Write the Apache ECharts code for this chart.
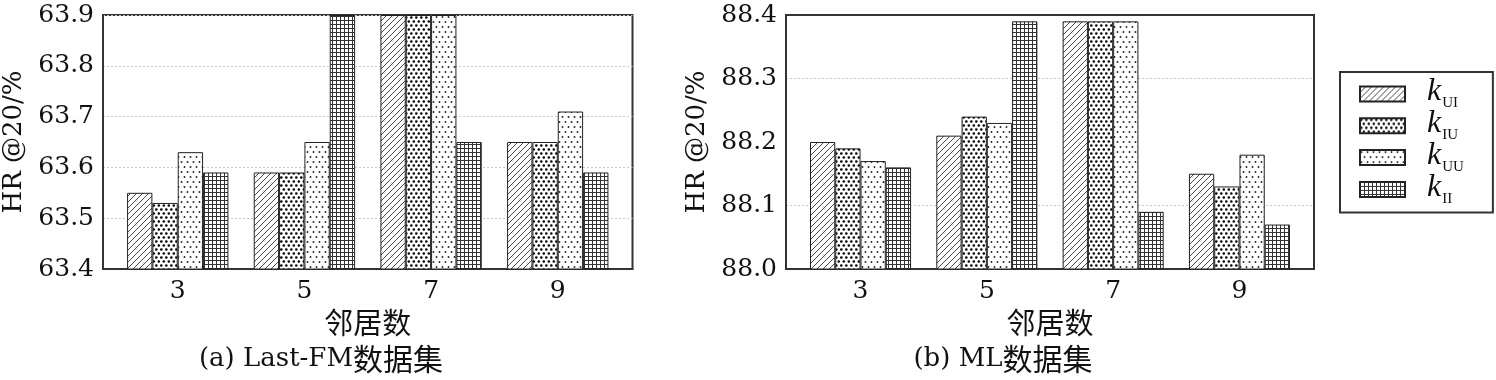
<!DOCTYPE html>
<html><head><meta charset="utf-8">
<script src="https://cdn.jsdelivr.net/npm/echarts@6/dist/echarts.min.js"></script>
<style>html,body{margin:0;padding:0;background:#fff}#c{width:1496px;height:380px}</style>
</head><body><div id="c"></div>
<script>
// ---- data ----
const neighbors = [3, 5, 7, 9];
const seriesNames = ['kUI', 'kIU', 'kUU', 'kII'];
const lastfmTicks = [63.4, 63.5, 63.6, 63.7, 63.8, 63.9];
const mlTicks = [88.0, 88.1, 88.2, 88.3, 88.4];
const lastfm_kUI = [63.55, 63.59, 63.90, 63.65];
const lastfm_kIU = [63.53, 63.59, 63.90, 63.65];
const lastfm_kUU = [63.63, 63.65, 63.90, 63.71];
const lastfm_kII = [63.59, 63.90, 63.65, 63.59];
const ml_kUI = [88.20, 88.21, 88.39, 88.15];
const ml_kIU = [88.19, 88.24, 88.39, 88.13];
const ml_kUU = [88.17, 88.23, 88.39, 88.18];
const ml_kII = [88.16, 88.39, 88.09, 88.07];
const panelTitles = ['(a) Last-FM', '(b) ML'];
const titleSuffix = '数据集';
const xName = '邻居数';
const yName = 'HR @20/%';

// ---- patterns ----
function mk(w, h, draw) {
  const c = document.createElement('canvas');
  c.width = w; c.height = h;
  const g = c.getContext('2d');
  g.fillStyle = '#fff'; g.fillRect(0, 0, w, h);
  draw(g);
  return { image: c, repeat: 'repeat' };
}
const patHatch = mk(6, 6, g => {
  g.strokeStyle = '#333'; g.lineWidth = 0.9;
  g.beginPath();
  g.moveTo(-1, 7); g.lineTo(7, -1);
  g.moveTo(-1, 1); g.lineTo(1, -1);
  g.moveTo(5, 7); g.lineTo(7, 5);
  g.stroke();
});
const patDark = mk(5, 8, g => {
  g.fillStyle = '#000';
  g.beginPath(); g.arc(1.3, 1.5, 1.3, 0, Math.PI * 2); g.fill();
  g.beginPath(); g.arc(3.8, 5.5, 1.3, 0, Math.PI * 2); g.fill();
  g.beginPath(); g.arc(-1.2, 5.5, 1.3, 0, Math.PI * 2); g.fill();
  g.beginPath(); g.arc(6.3, 1.5, 1.3, 0, Math.PI * 2); g.fill();
});
const patLight = mk(6, 10, g => {
  g.fillStyle = '#222';
  g.beginPath(); g.arc(1.5, 2, 0.95, 0, Math.PI * 2); g.fill();
  g.beginPath(); g.arc(4.5, 7, 0.95, 0, Math.PI * 2); g.fill();
});
const patGrid = mk(4, 4, g => {
  g.fillStyle = '#333';
  g.fillRect(0, 0, 4, 1);
  g.fillRect(0, 0, 1, 4);
});
const patterns = [patHatch, patDark, patLight, patGrid];

const serif = 'DejaVu Serif';
const cjk = 'Noto Sans CJK SC';
const txt = '#111';

function xAxisCfg(idx) {
  return {
    type: 'value', gridIndex: idx, min: 1.82, max: 10.18,
    axisLine: { show: true, lineStyle: { color: '#333', width: 2 } },
    axisTick: { show: false },
    splitLine: { show: false },
    axisLabel: { customValues: neighbors, color: txt, fontFamily: serif, fontSize: 25, margin: 10 },
    name: xName, nameLocation: 'middle', nameGap: 38,
    nameTextStyle: { color: txt, fontFamily: cjk, fontSize: 29 }
  };
}
function yAxisCfg(idx, ticks, gridColors) {
  const step = Math.round((ticks[1] - ticks[0]) * 1000) / 1000;
  return {
    type: 'value', gridIndex: idx, min: ticks[0], max: ticks[ticks.length - 1], interval: step,
    axisLine: { show: true, lineStyle: { color: '#333', width: 2 } },
    axisTick: { show: false },
    splitLine: { show: true, lineStyle: { color: gridColors, type: [2, 2], width: 1 } },
    axisLabel: { color: txt, fontFamily: serif, fontSize: 25, margin: 9, formatter: v => v.toFixed(1) },
    name: yName, nameLocation: 'middle', nameGap: 76, nameRotate: 90,
    nameTextStyle: { color: txt, fontFamily: serif, fontSize: 26 }
  };
}
const lastfmData = [lastfm_kUI, lastfm_kIU, lastfm_kUU, lastfm_kII];
const mlData = [ml_kUI, ml_kIU, ml_kUU, ml_kII];
const series = [];
[lastfmData, mlData].forEach((set, gi) => {
  set.forEach((vals, si) => {
    series.push({
      type: 'bar', name: seriesNames[si], xAxisIndex: gi, yAxisIndex: gi,
      data: neighbors.map((x, i) => [x, vals[i]]),
      barGap: '0%', barCategoryGap: '20%',
      itemStyle: { color: patterns[si], borderColor: '#222', borderWidth: 1 },
      emphasis: { disabled: true }
    });
  });
});

const titleRich = {
  a: { fontFamily: serif, fontSize: 26, fontWeight: 'normal', color: txt },
  c: { fontFamily: cjk, fontSize: 30, fontWeight: 'normal', color: txt }
};
const chart = echarts.init(document.getElementById('c'), null, { renderer: 'canvas' });
chart.setOption({
  animation: false,
  backgroundColor: '#fff',
  title: [
    { text: `{a|${panelTitles[0]}}{c|${titleSuffix}}`, left: 316, top: 339, textAlign: 'center', textStyle: { fontWeight: 'normal', rich: titleRich } },
    { text: `{a|${panelTitles[1]}}{c|${titleSuffix}}`, left: 998, top: 339, textAlign: 'center', textStyle: { fontWeight: 'normal', rich: titleRich } }
  ],
  grid: [
    { left: 103, top: 15, width: 529.5, height: 254, show: true, borderColor: '#333', borderWidth: 2, backgroundColor: 'transparent' },
    { left: 786, top: 15, width: 528, height: 254, show: true, borderColor: '#333', borderWidth: 2, backgroundColor: 'transparent' }
  ],
  xAxis: [xAxisCfg(0), xAxisCfg(1)],
  yAxis: [yAxisCfg(0, lastfmTicks, '#c8c8c8'), yAxisCfg(1, mlTicks, ['transparent', '#c8c8c8'])],
  legend: {
    data: seriesNames, orient: 'vertical', left: 1340, top: 72,
    itemWidth: 45, itemHeight: 15, itemGap: -3.2,
    borderColor: '#333', borderWidth: 2, padding: [4, 29, 6, 19],
    selectedMode: false, icon: 'rect',
    formatter: n => `{g|}{k|k}{s|${n.slice(1)}}`,
    textStyle: {
      rich: {
        g: { width: 17, height: 28 },
        k: { fontFamily: 'Liberation Serif', fontStyle: 'italic', fontSize: 32, color: txt, lineHeight: 28, verticalAlign: 'bottom' },
        s: { fontFamily: 'Liberation Serif', fontSize: 15, color: txt, lineHeight: 28, verticalAlign: 'bottom', padding: [0, 0, -3, 1] }
      }
    }
  },
  series: series
});
</script></body></html>
